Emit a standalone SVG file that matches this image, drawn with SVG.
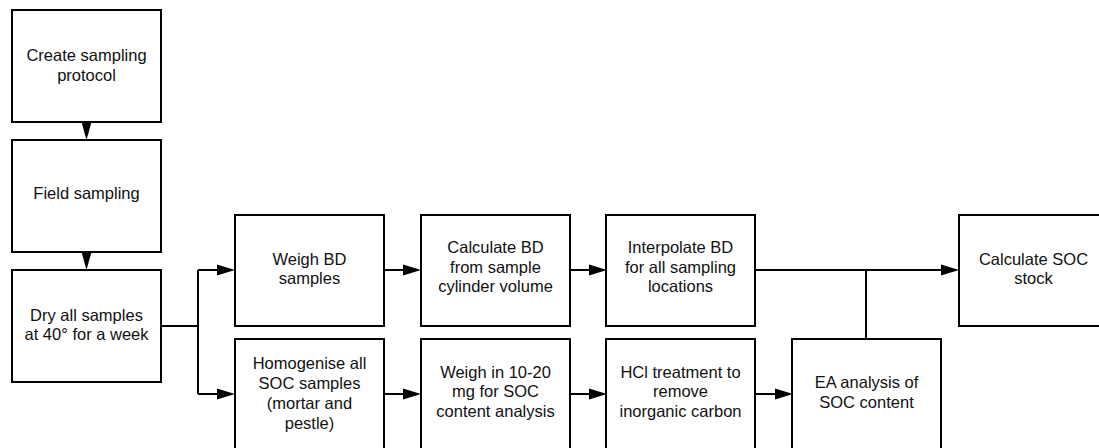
<svg xmlns="http://www.w3.org/2000/svg" width="1099" height="448" viewBox="0 0 1099 448">
<style>
.box{fill:#fff;stroke:#000;stroke-width:2}
.t{font-family:"Liberation Sans",Arial,sans-serif;font-size:16.5px;fill:#111;text-anchor:middle}
.c{fill:none;stroke:#000;stroke-width:2}
.ah{fill:#000}
</style>
<rect width="1099" height="448" fill="#fff"/>
<g id="connectors">
<path class="c" d="M86.5,122 V124"/>
<polygon class="ah" points="81.5,122 91.5,122 86.5,140"/>
<polygon class="ah" points="81.5,252 91.5,252 86.5,270"/>
<path class="c" d="M161,326 H198 M198,270 V394 M198,270 H218 M198,394 H218"/>
<polygon class="ah" points="217,264.5 235,270 217,275.5"/>
<polygon class="ah" points="217,388.5 235,394 217,399.5"/>
<path class="c" d="M384,270 H403 M570,270 H589 M384,394 H403 M570,394 H589 M755,394 H776"/>
<polygon class="ah" points="403,264.5 421,270 403,275.5"/>
<polygon class="ah" points="589,264.5 607,270 589,275.5"/>
<polygon class="ah" points="403,388.5 421,394 403,399.5"/>
<polygon class="ah" points="589,388.5 607,394 589,399.5"/>
<polygon class="ah" points="775,388.5 793,394 775,399.5"/>
<path class="c" d="M755,270 H942 M866,270 V339"/>
<polygon class="ah" points="941,264.5 959,270 941,275.5"/>
</g>
<g id="n1"><rect class="box" x="12" y="10" width="149" height="112"/>
<text class="t" x="86.5" y="61">Create sampling</text><text class="t" x="86.5" y="81">protocol</text></g>
<g id="n2"><rect class="box" x="12" y="140" width="149" height="112"/>
<text class="t" x="86.5" y="199">Field sampling</text></g>
<g id="n3"><rect class="box" x="12" y="270" width="149" height="112"/>
<text class="t" x="86.5" y="321">Dry all samples</text><text class="t" x="86.5" y="340">at 40° for a week</text></g>
<g id="n4"><rect class="box" x="235" y="215" width="149" height="111"/>
<text class="t" x="309.5" y="265">Weigh BD</text><text class="t" x="309.5" y="284">samples</text></g>
<g id="n5"><rect class="box" x="421" y="215" width="149" height="111"/>
<text class="t" x="495.5" y="253">Calculate BD</text><text class="t" x="495.5" y="273">from sample</text><text class="t" x="495.5" y="292">cylinder volume</text></g>
<g id="n6"><rect class="box" x="606" y="215" width="149" height="111"/>
<text class="t" x="680.5" y="253">Interpolate BD</text><text class="t" x="680.5" y="273">for all sampling</text><text class="t" x="680.5" y="292">locations</text></g>
<g id="n7"><rect class="box" x="959" y="215" width="149" height="111"/>
<text class="t" x="1033.5" y="265">Calculate SOC</text><text class="t" x="1033.5" y="284">stock</text></g>
<g id="n8"><rect class="box" x="235" y="339" width="149" height="112"/>
<text class="t" x="309.5" y="369">Homogenise all</text><text class="t" x="309.5" y="389">SOC samples</text><text class="t" x="309.5" y="409">(mortar and</text><text class="t" x="309.5" y="429">pestle)</text></g>
<g id="n9"><rect class="box" x="421" y="339" width="149" height="112"/>
<text class="t" x="495.5" y="378">Weigh in 10-20</text><text class="t" x="495.5" y="397">mg for SOC</text><text class="t" x="495.5" y="417">content analysis</text></g>
<g id="n10"><rect class="box" x="606" y="339" width="149" height="112"/>
<text class="t" x="680.5" y="378">HCl treatment to</text><text class="t" x="680.5" y="397">remove</text><text class="t" x="680.5" y="417">inorganic carbon</text></g>
<g id="n11"><rect class="box" x="792" y="339" width="149" height="112"/>
<text class="t" x="866.5" y="388">EA analysis of</text><text class="t" x="866.5" y="408">SOC content</text></g>
</svg>
